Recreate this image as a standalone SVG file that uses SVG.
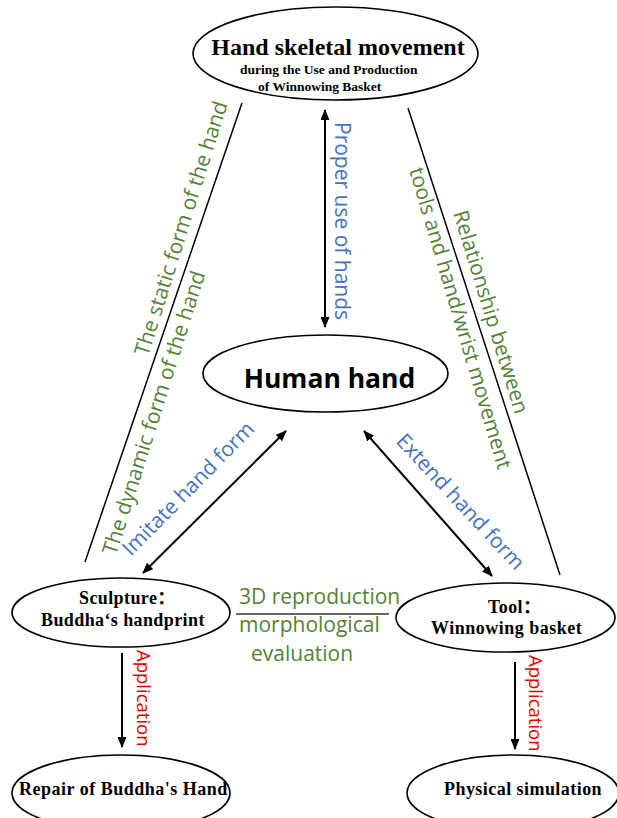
<svg xmlns="http://www.w3.org/2000/svg" width="617" height="818" viewBox="0 0 617 818">
<style>
.node ellipse{fill:#fff;stroke:#000;stroke-width:1.6}
.ser{font-family:"Liberation Serif","Noto Sans CJK SC",serif;font-weight:bold;fill:#000}
.lab{font-family:"Open Sans","Liberation Sans",sans-serif;font-size:21px}
.g{fill:#548235}
.b{fill:#4472C4}
.r{fill:#E00000;font-size:18.5px}
.ln{stroke:#000;stroke-width:1.5;fill:none}
.ar{stroke:#000;stroke-width:2;fill:none;marker-end:url(#ah);marker-start:url(#ah)}
.ar1{stroke:#000;stroke-width:2;fill:none;marker-end:url(#ah)}
</style>
<defs>
<marker id="ah" markerUnits="userSpaceOnUse" markerWidth="11" markerHeight="9" refX="10" refY="4.5" orient="auto-start-reverse">
<path d="M0,0 L11,4.5 L0,9 z" fill="#000"/>
</marker>
</defs>
<rect width="617" height="818" fill="#fff"/>
<g id="connectors">
<line class="ln" x1="242" y1="103" x2="85" y2="562"/>
<line class="ln" x1="408" y1="108" x2="560" y2="575"/>
<line class="ar" x1="325" y1="110" x2="325" y2="327"/>
<line class="ar" x1="286" y1="431" x2="143" y2="573"/>
<line class="ar" x1="364" y1="431" x2="492" y2="576"/>
<line class="ar1" x1="122" y1="653" x2="122" y2="747"/>
<line class="ar1" x1="515" y1="662" x2="515" y2="749"/>
<line x1="236" y1="614" x2="389" y2="614" stroke="#333" stroke-width="1.5"/>
</g>
<g id="labels" class="lab">
<text class="b" transform="translate(335,122) rotate(90)">Proper use of hands</text>
<text class="g" transform="translate(148,357) rotate(-72.5)">The static form of the hand</text>
<text class="g" transform="translate(116,556) rotate(-72.4)">The dynamic form of the hand</text>
<text class="b" transform="translate(131,557) rotate(-45.5)">Imitate hand form</text>
<text class="b" transform="translate(395,442) rotate(47)">Extend hand form</text>
<text class="g" transform="translate(453,213) rotate(72.9)">Relationship between</text>
<text class="g" transform="translate(409,170) rotate(73.5)">tools and hand/wrist movement</text>
<text class="g" x="239" y="604">3D reproduction</text>
<text class="g" x="239" y="632">morphological</text>
<text class="g" x="251" y="661">evaluation</text>
<text class="r" transform="translate(137,650) rotate(90)">Application</text>
<text class="r" transform="translate(529,655) rotate(90)">Application</text>
</g>
<g id="top" class="node">
<ellipse cx="335.5" cy="53.5" rx="142.5" ry="46.5"/>
<text class="ser" x="338" y="55" font-size="24" text-anchor="middle">Hand skeletal movement</text>
<text class="ser" x="240" y="74" font-size="13.5">during the Use and Production</text>
<text class="ser" x="258" y="91" font-size="13.5">of Winnowing Basket</text>
</g>
<g id="human" class="node">
<ellipse cx="325.5" cy="373.5" rx="122.5" ry="38.5"/>
<text x="329.5" y="388" font-family="'Open Sans','Liberation Sans',sans-serif" font-weight="bold" font-size="26.5" text-anchor="middle">Human hand</text>
</g>
<g id="sculpture" class="node">
<ellipse cx="121" cy="612.5" rx="109" ry="34.5"/>
<text class="ser" x="79" y="604" font-size="18" letter-spacing="0.4">Sculpture：</text>
<text class="ser" x="41" y="626" font-size="18" letter-spacing="0.4">Buddha‘s handprint</text>
</g>
<g id="tool" class="node">
<ellipse cx="505.5" cy="617.5" rx="109.5" ry="34.5"/>
<text class="ser" x="488" y="613" font-size="18" letter-spacing="0.4">Tool：</text>
<text class="ser" x="431" y="634" font-size="18" letter-spacing="0.5">Winnowing basket</text>
</g>
<g id="repair" class="node">
<ellipse cx="121" cy="793" rx="109" ry="38"/>
<text class="ser" x="19" y="795" font-size="18" letter-spacing="0.5">Repair of Buddha's Hand</text>
</g>
<g id="physical" class="node">
<ellipse cx="513" cy="793" rx="106" ry="38"/>
<text class="ser" x="444" y="795" font-size="18" letter-spacing="0.45">Physical simulation</text>
</g>
</svg>
